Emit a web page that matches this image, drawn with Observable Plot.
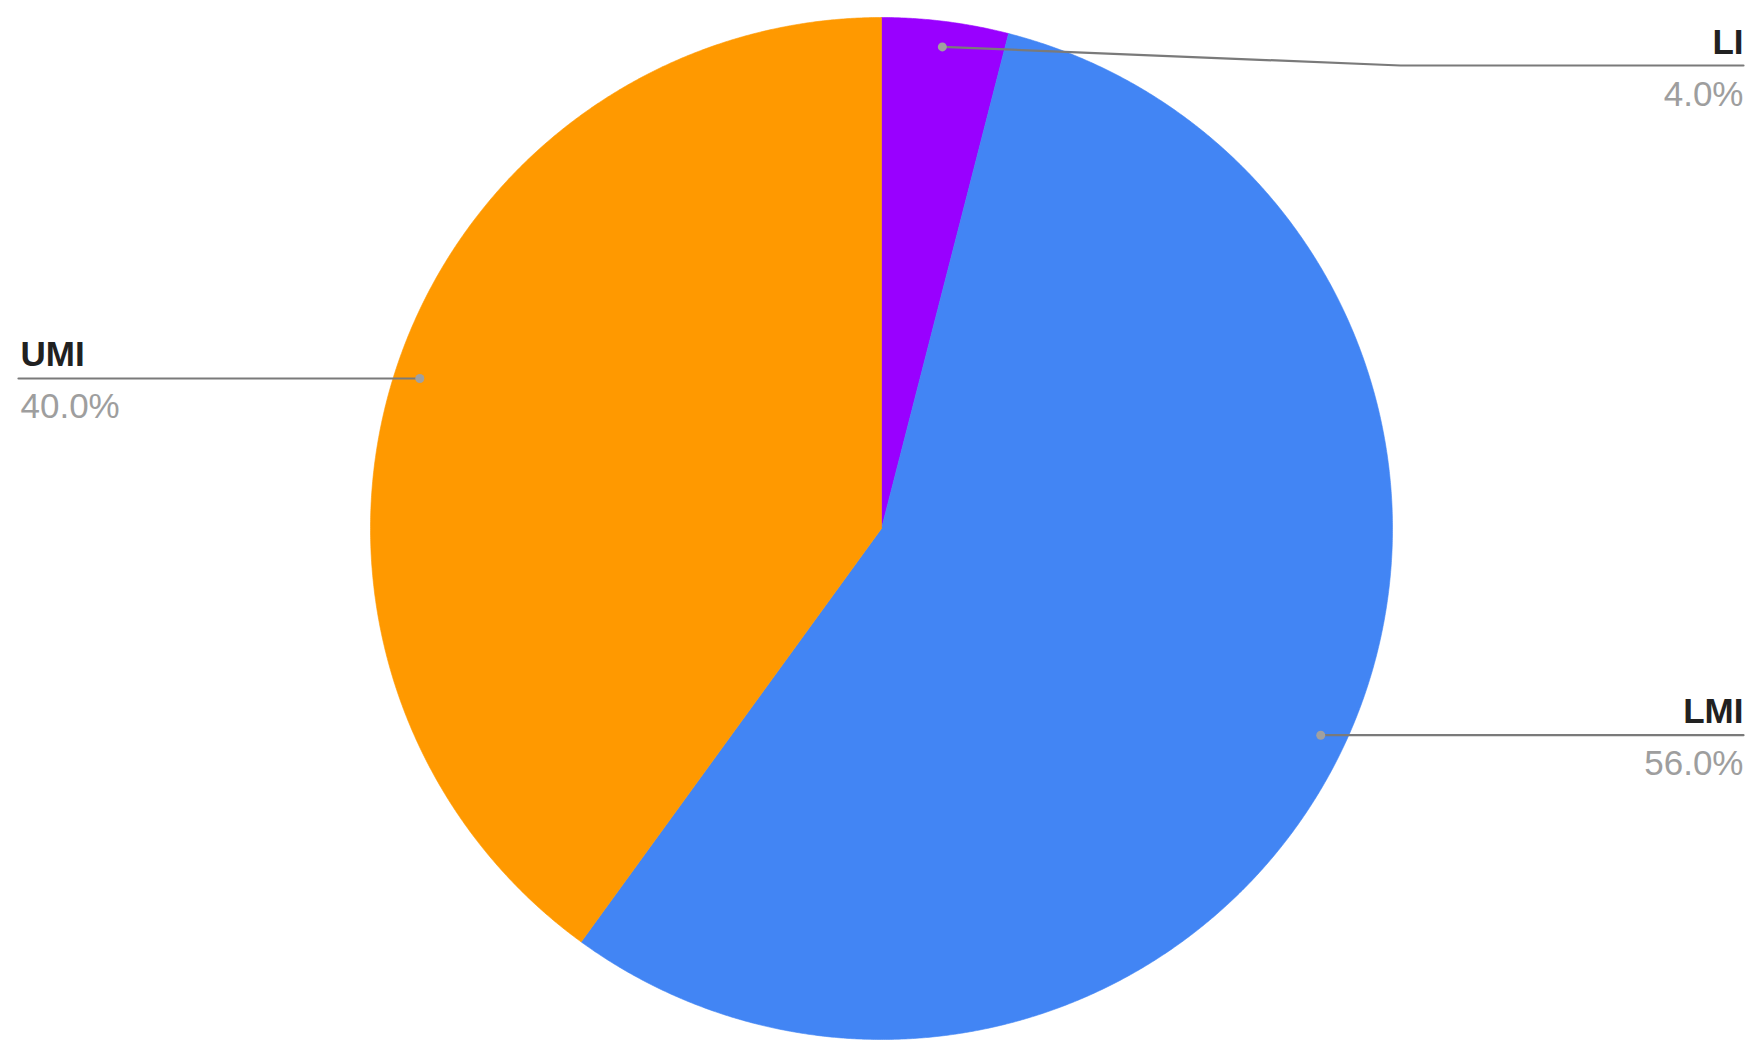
<!DOCTYPE html>
<html>
<head>
<meta charset="utf-8">
<script src="https://cdn.jsdelivr.net/npm/d3@7"></script>
<script src="https://cdn.jsdelivr.net/npm/@observablehq/plot@0.6"></script>
<style>
  html, body { margin: 0; padding: 0; background: #fff; }
  #chart svg { display: block; }
</style>
</head>
<body>
<div id="chart"></div>
<script>
// ---- data ----
const categories = ["LI", "LMI", "UMI"];
const shares = [4.0, 56.0, 40.0];
const shareLabels = ["4.0%", "56.0%", "40.0%"];
const sliceColors = ["#9900ff", "#4285f4", "#ff9900"];

// ---- layout (pixels) ----
const W = 1755, H = 1047;
const cx = 881, cy = 528, R = 511;
const leftX = 18, rightX = 1743;
const minLineY = 65;
const bendX = 1400;

const toX = px => (px - cx) / R;
const toY = py => (cy - py) / R;
const fromX = x => cx + x * R;
const fromY = y => cy - y * R;

const pie = d3.pie().sort(null).value(d => d.value)(
  categories.map((c, i) => ({cat: c, value: shares[i], label: shareLabels[i], color: sliceColors[i]}))
);

// slice polygons in unit coordinates (y up)
const slices = pie.map(p => {
  const pts = [{x: 0, y: 0}];
  const n = Math.max(2, Math.ceil((p.endAngle - p.startAngle) / (Math.PI / 720)));
  for (let k = 0; k <= n; k++) {
    const a = p.startAngle + (p.endAngle - p.startAngle) * k / n;
    pts.push({x: Math.sin(a), y: Math.cos(a)});
  }
  pts.push({x: 0, y: 0});
  return {cat: p.data.cat, color: p.data.color, pts};
});

// leader lines and labels
const leaders = [];
const dots = [];
const labelRows = [];
pie.forEach(p => {
  const mid = (p.startAngle + p.endAngle) / 2;
  const dx = 0.95 * Math.sin(mid), dy = 0.95 * Math.cos(mid);
  dots.push({x: dx, y: dy});
  const dotPx = fromX(dx), dotPy = fromY(dy);
  const right = Math.sin(mid) >= 0;
  const endPx = right ? rightX : leftX;
  const lineY = Math.max(dotPy, minLineY);
  const pts = [{x: dx, y: dy, cat: p.data.cat}];
  if (lineY !== dotPy) pts.push({x: toX(bendX), y: toY(lineY), cat: p.data.cat});
  pts.push({x: toX(endPx), y: toY(lineY), cat: p.data.cat});
  leaders.push(...pts);
  labelRows.push({
    x: toX(right ? rightX : leftX + 2),
    y: toY(lineY),
    anchor: right ? "end" : "start",
    cat: p.data.cat,
    label: p.data.label
  });
});

const marks = [];
slices.forEach(s => {
  marks.push(Plot.line(s.pts, {x: "x", y: "y", fill: s.color, stroke: s.color, strokeWidth: 0.6, curve: "linear"}));
});
marks.push(Plot.line(leaders, {x: "x", y: "y", z: "cat", stroke: "#7a7a7a", strokeWidth: 2.2}));
marks.push(Plot.dot(dots, {x: "x", y: "y", r: 4.5, fill: "#a0a0a0", stroke: "none"}));
["start", "end"].forEach(anchor => {
  const rows = labelRows.filter(d => d.anchor === anchor);
  marks.push(Plot.text(rows, {x: "x", y: "y", text: "cat", textAnchor: anchor, lineAnchor: "bottom", dy: -12,
    fontSize: 35, fontWeight: "bold", fill: "#212121"}));
  marks.push(Plot.text(rows, {x: "x", y: "y", text: "label", textAnchor: anchor, lineAnchor: "bottom", dy: 40,
    fontSize: 35, fill: "#9e9e9e"}));
});

const chart = Plot.plot({
  width: W,
  height: H,
  margin: 0,
  style: {fontFamily: "'Liberation Sans', Arial, sans-serif", background: "#fff", overflow: "visible"},
  x: {axis: null, domain: [toX(0), toX(W)]},
  y: {axis: null, domain: [toY(H), toY(0)]},
  marks
});
document.getElementById("chart").appendChild(chart);
</script>
</body>
</html>
